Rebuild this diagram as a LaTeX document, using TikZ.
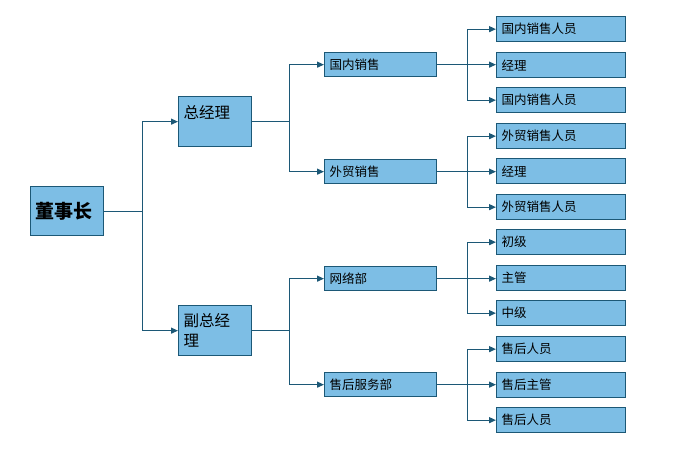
\documentclass[tikz,border=0pt]{standalone}
\usepackage{fontspec}
\setmainfont{Noto Sans CJK SC}
\usepackage{tikz}
\usetikzlibrary{arrows.meta, positioning}

\definecolor{boxfill}{RGB}{125,190,229}
\definecolor{boxline}{RGB}{28,88,118}

\begin{document}
\begin{tikzpicture}[
  x=1pt, y=-1pt,
  box/.style={draw=boxline, line width=1.3pt, fill=boxfill, align=left, inner xsep=5pt, inner ysep=2pt, anchor=north west},
  topbox/.style={box, minimum height=50pt, text width=63pt, font=\fontsize{15.5}{20}\selectfont},
  midbox/.style={box, minimum height=24pt, text width=102pt, font=\fontsize{12.5}{14}\selectfont},
  leafbox/.style={box, minimum height=25pt, text width=119pt, font=\fontsize{12.5}{14}\selectfont},
  link/.style={draw=boxline, line width=1.2pt},
  arrow/.style={link, -{Triangle[length=7pt, width=6pt]}}
]
\useasboundingbox (0,0) rectangle (681,450);

% root and managers
\node[topbox, minimum height=49pt, font=\fontsize{19}{22}\selectfont\bfseries] (chair) at (30,186) {董事长};
\node[topbox] (gm) at (178,96) {总经理\\\mbox{}};
\node[topbox] (vgm) at (178,305) {副总经\\理};

% departments
\node[midbox] (dom) at (324,52) {国内销售};
\node[midbox] (frn) at (324,159) {外贸销售};
\node[midbox] (net) at (324,266) {网络部};
\node[midbox] (svc) at (324,372) {售后服务部};

% staff
\node[leafbox] (d1) at (496,16) {国内销售人员};
\node[leafbox] (d2) at (496,52) {经理};
\node[leafbox] (d3) at (496,87) {国内销售人员};
\node[leafbox] (f1) at (496,123) {外贸销售人员};
\node[leafbox] (f2) at (496,158) {经理};
\node[leafbox] (f3) at (496,194) {外贸销售人员};
\node[leafbox] (n1) at (496,229) {初级};
\node[leafbox] (n2) at (496,265) {主管};
\node[leafbox] (n3) at (496,300) {中级};
\node[leafbox] (s1) at (496,336) {售后人员};
\node[leafbox] (s2) at (496,372) {售后主管};
\node[leafbox] (s3) at (496,407) {售后人员};

% root -> managers
\draw[link] (chair.east) -- ++(38,0) coordinate (cb);
\draw[arrow] (cb) |- (gm.west);
\draw[arrow] (cb) |- (vgm.west);

% managers -> departments
\draw[link] (gm.east) -- ++(37,0) coordinate (gb);
\draw[arrow] (gb) |- (dom.west);
\draw[arrow] (gb) |- (frn.west);
\draw[link] (vgm.east) -- ++(37,0) coordinate (vb);
\draw[arrow] (vb) |- (net.west);
\draw[arrow] (vb) |- (svc.west);

% departments -> staff
\foreach \dep/\a/\b/\c in {dom/d1/d2/d3, frn/f1/f2/f3, net/n1/n2/n3, svc/s1/s2/s3} {
  \draw[arrow] (\dep.east) -- (\dep.east -| \b.west);
  \path (\dep.east) -- ++(30,0) coordinate (bus);
  \draw[arrow] (bus |- \a.west) -- (\a.west);
  \draw[arrow] (bus |- \c.west) -- (\c.west);
  \draw[link] (bus |- \a.west) -- (bus |- \c.west);
}
\end{tikzpicture}
\end{document}
